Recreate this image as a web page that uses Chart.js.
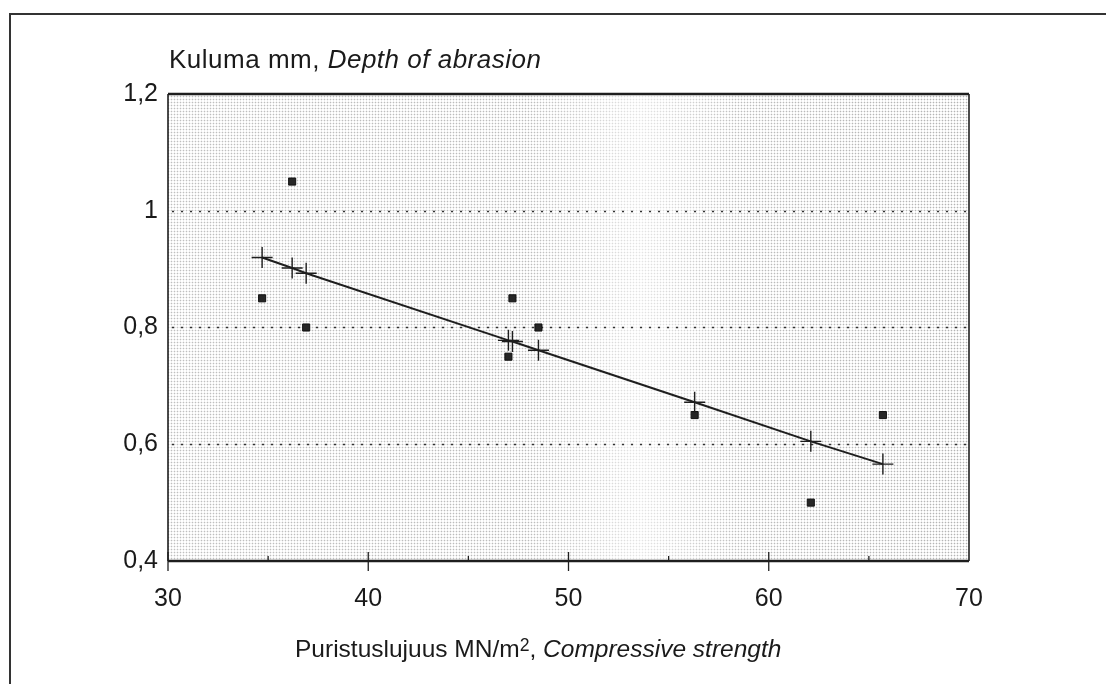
<!DOCTYPE html>
<html>
<head>
<meta charset="utf-8">
<script src="https://cdn.jsdelivr.net/npm/chart.js@4.4.1/dist/chart.umd.min.js"></script>
<style>
  html, body { margin: 0; padding: 0; background: #fff; }
  #wrap { position: relative; width: 1106px; height: 684px; overflow: hidden; }
  #frame { position: absolute; left: 9px; top: 13px; width: 1100px; height: 680px;
           border-top: 2px solid #333; border-left: 2px solid #333; box-sizing: border-box; }
  .txt { position: absolute; font-family: "Liberation Sans", Arial, sans-serif; color: #1a1a1a; white-space: nowrap; }
  #title { left: 169px; top: 46px; font-size: 26px; line-height: 26px; letter-spacing: 0.5px; }
  #xtitle { left: 295px; top: 636px; font-size: 24.5px; line-height: 25px; letter-spacing: 0; }
  sup { font-size: 0.72em; line-height: 0; vertical-align: 0.36em; }
  canvas { position: absolute; left: 0; top: 0; }
</style>
</head>
<body>
<div id="wrap">
  <canvas id="c" width="1106" height="684"></canvas>
  <div id="frame"></div>
  <div class="txt" id="title">Kuluma mm, <i>Depth of abrasion</i></div>
  <div class="txt" id="xtitle">Puristuslujuus MN/m<sup>2</sup>, <i>Compressive strength</i></div>
</div>
<script>
// ---- data ----
const strengthValues = [34.7, 36.2, 36.9, 47.0, 47.2, 48.5, 56.3, 62.1, 65.7];
const depthValues    = [0.85, 1.05, 0.80, 0.75, 0.85, 0.80, 0.65, 0.50, 0.65];
const fitStrength    = [34.7, 36.2, 36.9, 47.0, 47.2, 48.5, 56.3, 62.1, 65.7];
const fitDepth       = [0.920, 0.902, 0.893, 0.778, 0.776, 0.761, 0.672, 0.605, 0.566];
const xTickValues    = [30, 40, 50, 60, 70];
const xTickLabels    = ['30', '40', '50', '60', '70'];
const xMinorTicks    = [35, 45, 55, 65];
const yTickValues    = [0.4, 0.6, 0.8, 1.0, 1.2];
const yTickLabels    = ['0,4', '0,6', '0,8', '1', '1,2'];
const yGridValues    = [0.6, 0.8, 1.0];

const FONT = '"Liberation Sans", Arial, sans-serif';

function makePattern(ctx) {
  const t = document.createElement('canvas');
  t.width = 3; t.height = 3;
  const g = t.getContext('2d');
  g.fillStyle = '#ffffff'; g.fillRect(0, 0, 3, 3);
  g.fillStyle = '#ececec'; g.fillRect(0, 0, 3, 1); g.fillRect(0, 0, 1, 3);
  g.fillStyle = '#b4b4b4'; g.fillRect(0, 0, 1, 1);
  return ctx.createPattern(t, 'repeat');
}

const plotDecor = {
  id: 'plotDecor',
  beforeDatasetsDraw(chart) {
    const { ctx, chartArea: a, scales } = chart;
    ctx.save();
    ctx.fillStyle = makePattern(ctx);
    ctx.fillRect(a.left, a.top, a.right - a.left, a.bottom - a.top);
    // lighter vertical band as in the scan
    const gr = ctx.createLinearGradient(a.left, 0, a.right, 0);
    gr.addColorStop(0, 'rgba(255,255,255,0.15)');
    gr.addColorStop(0.45, 'rgba(255,255,255,0.1)');
    gr.addColorStop(0.59, 'rgba(255,255,255,0.65)');
    gr.addColorStop(0.72, 'rgba(255,255,255,0.1)');
    gr.addColorStop(1, 'rgba(255,255,255,0.0)');
    ctx.fillStyle = gr;
    ctx.fillRect(a.left, a.top, a.right - a.left, a.bottom - a.top);
    // dotted grid lines
    ctx.strokeStyle = '#333';
    ctx.lineWidth = 1.4;
    ctx.setLineDash([2, 7]);
    yGridValues.forEach(v => {
      const y = Math.round(scales.y.getPixelForValue(v)) + 0.5;
      ctx.beginPath(); ctx.moveTo(a.left + 4, y); ctx.lineTo(a.right, y); ctx.stroke();
    });
    ctx.restore();
  },
  afterDatasetsDraw(chart) {
    const { ctx, chartArea: a, scales } = chart;
    ctx.save();
    ctx.strokeStyle = '#1e1e1e';
    // plot border
    ctx.lineWidth = 2.5;
    ctx.beginPath(); ctx.moveTo(a.left, a.top); ctx.lineTo(a.right, a.top); ctx.stroke();
    ctx.beginPath(); ctx.moveTo(a.left, a.bottom); ctx.lineTo(a.right, a.bottom); ctx.stroke();
    ctx.lineWidth = 1.6;
    ctx.beginPath(); ctx.moveTo(a.left, a.top); ctx.lineTo(a.left, a.bottom); ctx.stroke();
    ctx.beginPath(); ctx.moveTo(a.right, a.top); ctx.lineTo(a.right, a.bottom); ctx.stroke();
    // x tick marks
    ctx.lineWidth = 1.3;
    xTickValues.forEach(v => {
      const x = scales.x.getPixelForValue(v);
      if (v === 70) return;
      ctx.beginPath(); ctx.moveTo(x, a.bottom - 9); ctx.lineTo(x, a.bottom + 10); ctx.stroke();
    });
    xMinorTicks.forEach(v => {
      const x = scales.x.getPixelForValue(v);
      ctx.beginPath(); ctx.moveTo(x, a.bottom - 5); ctx.lineTo(x, a.bottom); ctx.stroke();
    });
    ctx.restore();
  }
};

new Chart(document.getElementById('c'), {
  type: 'scatter',
  data: {
    datasets: [
      {
        label: 'Regression',
        type: 'line',
        data: fitStrength.map((x, i) => ({ x, y: fitDepth[i] })),
        borderColor: '#1e1e1e',
        borderWidth: 2,
        pointStyle: 'cross',
        pointRadius: 10.5,
        pointBorderWidth: 1.4,
        pointBorderColor: '#1e1e1e',
        fill: false,
        tension: 0
      },
      {
        label: 'Measured',
        data: strengthValues.map((x, i) => ({ x, y: depthValues[i] })),
        pointStyle: 'rect',
        pointRadius: 5,
        backgroundColor: '#262626',
        borderColor: '#111',
        borderWidth: 1
      }
    ]
  },
  options: {
    responsive: false,
    animation: false,
    devicePixelRatio: 1,
    layout: { padding: { left: 0, top: 94, right: 137, bottom: 0 } },
    plugins: { legend: { display: false }, tooltip: { enabled: false }, title: { display: false } },
    scales: {
      x: {
        type: 'linear', min: 30, max: 70,
        grid: { display: false, drawTicks: false },
        border: { display: false },
        afterBuildTicks: s => { s.ticks = xTickValues.map(v => ({ value: v })); },
        afterFit: s => { s.height = 123; },
        ticks: {
          padding: 23,
          color: '#1a1a1a',
          font: { family: FONT, size: 25 },
          maxRotation: 0,
          callback: (v) => xTickLabels[xTickValues.indexOf(v)]
        }
      },
      y: {
        type: 'linear', min: 0.4, max: 1.2,
        grid: { display: false, drawTicks: false },
        border: { display: false },
        afterBuildTicks: s => { s.ticks = yTickValues.map(v => ({ value: v })); },
        afterFit: s => { s.width = 168; },
        ticks: {
          padding: 10,
          color: '#1a1a1a',
          font: { family: FONT, size: 25 },
          callback: (v, i) => yTickLabels[i]
        }
      }
    }
  },
  plugins: [plotDecor]
});
</script>
</body>
</html>
